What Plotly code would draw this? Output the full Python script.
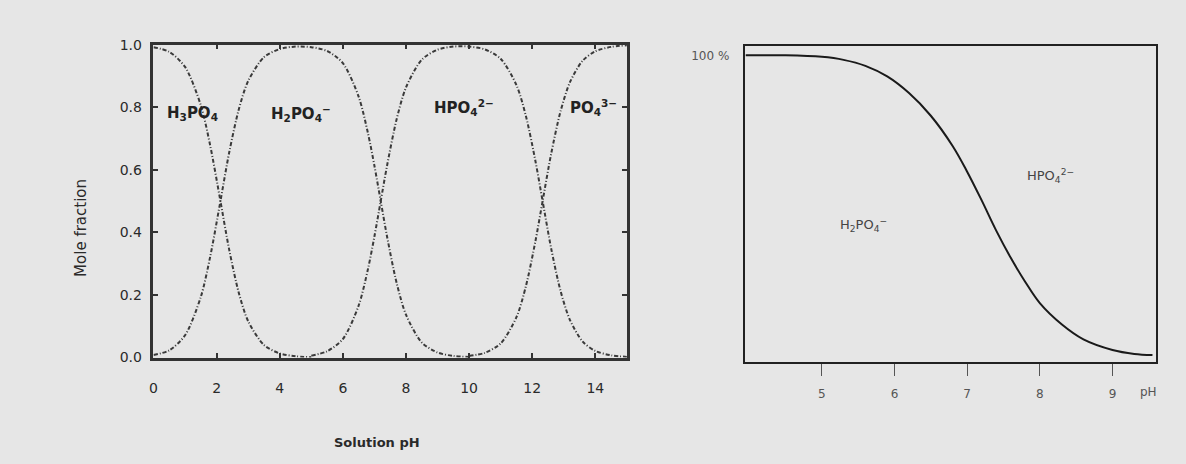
import plotly.graph_objects as go

# ---- Left panel: mole fraction of phosphate species vs solution pH ----
ph_h3po4 = [0, 0.5, 1.0, 1.5, 1.8, 2.1, 2.4, 2.7, 3.0, 3.5, 4.0, 4.5, 5.0]
frac_h3po4 = [0.992, 0.977, 0.929, 0.806, 0.676, 0.512, 0.344, 0.208, 0.116, 0.040, 0.013, 0.004, 0.001]

ph_h2po4 = [0, 0.5, 1.0, 1.5, 1.8, 2.1, 2.4, 2.7, 3.0, 3.5, 4.0, 4.5, 5.0, 5.5, 6.0, 6.5,
            6.8, 7.0, 7.2, 7.4, 7.7, 8.0, 8.5, 9.0, 9.5, 10.0]
frac_h2po4 = [0.008, 0.023, 0.071, 0.194, 0.324, 0.488, 0.656, 0.792, 0.884, 0.960, 0.986, 0.994,
              0.992, 0.980, 0.941, 0.834, 0.715, 0.613, 0.500, 0.387, 0.240, 0.137, 0.048, 0.016,
              0.005, 0.002]

ph_hpo4 = [5.0, 5.5, 6.0, 6.5, 6.8, 7.0, 7.2, 7.4, 7.7, 8.0, 8.5, 9.0, 9.5, 10.0, 10.5, 11.0,
           11.5, 11.8, 12.1, 12.33, 12.6, 12.9, 13.2, 13.6, 14.0, 14.5, 15.0]
frac_hpo4 = [0.006, 0.020, 0.059, 0.166, 0.285, 0.387, 0.500, 0.613, 0.760, 0.863, 0.952, 0.984,
             0.994, 0.994, 0.985, 0.955, 0.871, 0.772, 0.629, 0.500, 0.349, 0.212, 0.119, 0.051,
             0.021, 0.007, 0.002]

ph_po4 = [10.0, 10.5, 11.0, 11.5, 11.8, 12.1, 12.33, 12.6, 12.9, 13.2, 13.6, 14.0, 14.5, 15.0]
frac_po4 = [0.005, 0.015, 0.045, 0.129, 0.228, 0.371, 0.500, 0.651, 0.788, 0.881, 0.949, 0.979,
            0.993, 0.998]

left_xticks = [0, 2, 4, 6, 8, 10, 12, 14]
left_yticks = [0.0, 0.2, 0.4, 0.6, 0.8, 1.0]

# ---- Right panel: H2PO4- share vs pH ----
ph_right = [3.95, 4.5, 5.0, 5.3, 5.6, 5.9, 6.2, 6.5, 6.8, 7.0, 7.2, 7.4, 7.6, 7.8, 8.0, 8.3,
            8.6, 9.0, 9.3, 9.55]
share_right = [1.0, 1.0, 0.995, 0.985, 0.965, 0.93, 0.875, 0.80, 0.70, 0.615, 0.52, 0.42, 0.33,
               0.25, 0.18, 0.11, 0.06, 0.025, 0.012, 0.008]
right_xticks = [5, 6, 7, 8, 9]

BG = "#e6e6e6"
FONT = "DejaVu Sans, Liberation Sans, Arial, sans-serif"
curve_color = "#3a3a3a"

fig = go.Figure()
for xs, ys in [(ph_h3po4, frac_h3po4), (ph_h2po4, frac_h2po4),
               (ph_hpo4, frac_hpo4), (ph_po4, frac_po4)]:
    fig.add_trace(go.Scatter(x=xs, y=ys, mode="lines", xaxis="x", yaxis="y",
                             line=dict(color=curve_color, width=2, dash="4px,2px,1px,2px",
                                       shape="spline", smoothing=0.8),
                             showlegend=False, hoverinfo="skip"))

fig.add_trace(go.Scatter(x=ph_right, y=share_right, mode="lines", xaxis="x2", yaxis="y2",
                         line=dict(color="#1a1a1a", width=2, shape="spline", smoothing=1.0),
                         showlegend=False, hoverinfo="skip"))

W, H = 1186, 464
fig.update_layout(
    width=W, height=H,
    margin=dict(l=0, r=0, t=0, b=0),
    paper_bgcolor=BG, plot_bgcolor=BG,
    font=dict(family=FONT, color="#222"),
    xaxis=dict(domain=[150 / W, 625 / W], range=[0, 15], tickvals=left_xticks,
               ticks="inside", ticklen=5, tickwidth=2, tickcolor="#333",
               showline=True, linecolor="#333", linewidth=2.5, mirror="ticks",
               showgrid=False, zeroline=False, ticklabelstandoff=16,
               tickfont=dict(size=14, color="#2a2a2a")),
    yaxis=dict(domain=[1 - 362 / H, 1 - 38 / H], range=[0, 1], tickvals=left_yticks,
               tickformat=".1f", ticks="inside", ticklen=5, tickwidth=2, tickcolor="#333",
               showline=True, linecolor="#333", linewidth=2.5, mirror="ticks",
               showgrid=False, zeroline=False, ticklabelstandoff=6,
               tickfont=dict(size=14, color="#2a2a2a")),
    xaxis2=dict(domain=[744 / W, 1156 / W], range=[3.95, 9.6], tickvals=right_xticks,
                ticks="outside", ticklen=12, tickwidth=1, tickcolor="#555",
                showline=True, linecolor="#222", linewidth=1.5, mirror=True,
                showgrid=False, zeroline=False, anchor="y2", ticklabelstandoff=8,
                tickfont=dict(size=12, color="#555")),
    yaxis2=dict(domain=[1 - 367 / H, 1 - 39 / H], range=[-0.016, 1.032], tickvals=[1],
                ticktext=["100 %"], ticks="", showline=True, linecolor="#222",
                linewidth=1.5, mirror=True, showgrid=False, zeroline=False, anchor="x2",
                ticklabelstandoff=12, tickfont=dict(size=12, color="#555")),
)

ann = []
# left species labels
species = [("H<sub>3</sub>PO<sub>4</sub>", 1.23, 0.78),
           ("H<sub>2</sub>PO<sub>4</sub><sup>−</sup>", 4.68, 0.78),
           ("HPO<sub>4</sub><sup>2−</sup>", 9.85, 0.80),
           ("PO<sub>4</sub><sup>3−</sup>", 13.95, 0.80)]
for t, x, y in species:
    ann.append(dict(text=f"<b>{t}</b>", x=x, y=y, xref="x", yref="y", showarrow=False,
                    xanchor="center", yanchor="middle", font=dict(size=15, color="#222")))
# right species labels
ann.append(dict(text="H<sub>2</sub>PO<sub>4</sub><sup>−</sup>", x=5.58, y=0.44, xref="x2",
                yref="y2", showarrow=False, xanchor="center", yanchor="middle",
                font=dict(size=13, color="#444")))
ann.append(dict(text="HPO<sub>4</sub><sup>2−</sup>", x=8.14, y=0.60, xref="x2",
                yref="y2", showarrow=False, xanchor="center", yanchor="middle",
                font=dict(size=13, color="#444")))
# axis titles
ann.append(dict(text="Mole fraction", x=77 / W, y=1 - 228 / H, xref="paper",
                yref="paper", textangle=-90, showarrow=False, xanchor="center",
                yanchor="middle", font=dict(size=15, color="#2a2a2a")))
ann.append(dict(text="<b>Solution pH</b>", x=374 / W, y=1 - 450 / H, xref="paper",
                yref="paper", showarrow=False, xanchor="center", yanchor="middle",
                font=dict(size=13, color="#2a2a2a")))
ann.append(dict(text="pH", x=1148 / W, y=1 - 398 / H, xref="paper", yref="paper",
                showarrow=False, xanchor="center", yanchor="middle",
                font=dict(size=12, color="#555")))
fig.update_layout(annotations=ann)

fig.write_html("out.html")
